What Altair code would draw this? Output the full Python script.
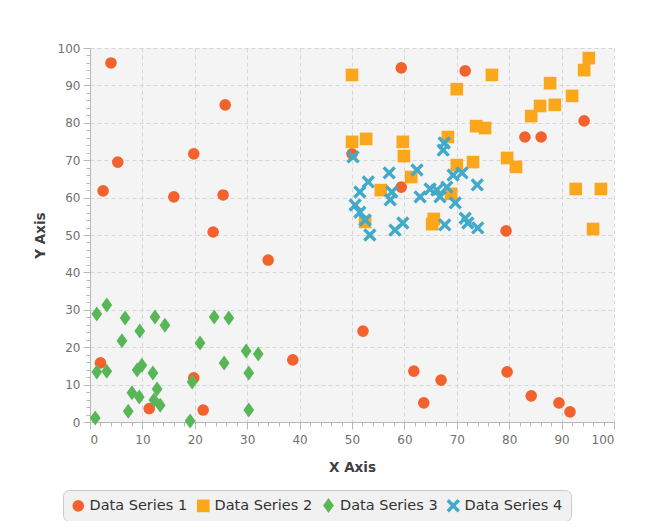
import altair as alt
import pandas as pd

series_names = ["Data Series 1", "Data Series 2", "Data Series 3", "Data Series 4"]
series_colors = ["#f3622d", "#fba71b", "#57b757", "#41a9c9"]

s1_x = [4.0, 5.3, 2.5, 16.0, 19.8, 25.8, 25.4, 23.5, 34.0, 2.0, 11.3, 19.8, 21.6, 38.7,
        52.1, 50.0, 59.4, 59.4, 71.6, 61.8, 63.7, 67.0, 79.4, 83.0, 86.1, 94.3, 79.6,
        84.2, 89.5, 91.6]
s1_y = [96.0, 69.5, 61.8, 60.2, 71.7, 84.8, 60.7, 50.8, 43.3, 15.8, 3.6, 11.8, 3.2, 16.6,
        24.3, 71.7, 94.7, 62.8, 93.9, 13.6, 5.1, 11.2, 51.1, 76.2, 76.2, 80.5, 13.4,
        7.0, 5.1, 2.7]

s2_x = [50.0, 50.0, 52.7, 59.7, 59.9, 55.5, 61.3, 52.5, 65.6, 65.3, 68.3, 70.0, 70.0,
        73.1, 73.7, 75.4, 76.7, 79.6, 81.3, 84.2, 85.9, 87.8, 88.7, 92.0, 94.3, 95.2,
        92.7, 97.5, 96.0, 68.9]
s2_y = [92.8, 74.9, 75.7, 74.9, 71.1, 62.0, 65.5, 53.5, 54.3, 52.9, 76.2, 89.0, 68.7,
        69.5, 79.1, 78.6, 92.8, 70.6, 68.2, 81.8, 84.5, 90.6, 84.8, 87.2, 94.1, 97.3,
        62.3, 62.3, 51.6, 61.0]

s3_x = [1.3, 3.2, 6.7, 9.5, 6.1, 12.4, 14.3, 1.3, 3.2, 9.0, 9.9, 12.0, 8.0, 9.4, 12.8,
        12.2, 13.4, 7.3, 1.0, 19.1, 19.5, 21.0, 23.7, 26.5, 25.6, 29.8, 32.1, 30.3, 30.3]
s3_y = [28.9, 31.3, 27.8, 24.3, 21.7, 28.1, 25.9, 13.4, 13.6, 13.9, 15.2, 13.1, 7.8, 6.7,
        8.8, 5.9, 4.5, 2.9, 1.1, 0.3, 10.7, 21.1, 28.1, 27.8, 15.8, 19.0, 18.2, 13.1, 3.2]

s4_x = [50.2, 67.6, 67.4, 57.1, 62.4, 53.1, 51.5, 50.6, 51.5, 52.5, 53.4, 57.6, 57.3,
        58.2, 59.7, 63.0, 64.9, 66.2, 66.8, 68.1, 69.3, 71.0, 69.7, 73.9, 67.7, 71.6,
        72.1, 74.0]
s4_y = [70.9, 74.6, 72.7, 66.6, 67.4, 64.2, 61.5, 58.0, 56.1, 54.0, 50.0, 61.5, 59.4,
        51.3, 53.2, 60.2, 62.3, 62.0, 60.2, 62.8, 66.0, 66.6, 58.6, 63.4, 52.7, 54.5,
        53.2, 51.9]

major_ticks = list(range(0, 101, 10))
minor_ticks = list(range(0, 101, 2))

rows = []
for name, xs, ys in zip(series_names, [s1_x, s2_x, s3_x, s4_x], [s1_y, s2_y, s3_y, s4_y]):
    for a, b in zip(xs, ys):
        rows.append({"x": a, "y": b, "series": name})
df = pd.DataFrame(rows)

diamond = "M0,-1L0.72,0L0,1L-0.72,0Z"
xmark = ("M-1,-0.64L-0.64,-1L0,-0.36L0.64,-1L1,-0.64L0.36,0L1,0.64L0.64,1L0,0.36"
         "L-0.64,1L-1,0.64L-0.36,0Z")

FONT = "DejaVu Sans"
xscale = alt.Scale(domain=[0, 100], nice=False, zero=False)
yscale = alt.Scale(domain=[0, 100], nice=False, zero=False)

axis_common = dict(
    values=major_ticks, grid=True, gridDash=[4, 3], gridColor="#d6d6d6",
    domainColor="#b8b8b8", tickColor="#b8b8b8", tickSize=7,
    labelFont=FONT, labelFontSize=12, labelColor="#707070",
    titleFont=FONT, titleFontSize=13.5, titleFontWeight="bold", titleColor="#404040",
)

main = alt.Chart(df).mark_point(filled=True, opacity=1).encode(
    x=alt.X("x:Q", scale=xscale,
            axis=alt.Axis(title="X Axis", orient="bottom", titlePadding=15, labelPadding=5,
                          **axis_common)),
    y=alt.Y("y:Q", scale=yscale,
            axis=alt.Axis(title="Y Axis", orient="left", titlePadding=10, labelPadding=3,
                          **axis_common)),
    color=alt.Color("series:N", scale=alt.Scale(domain=series_names, range=series_colors),
                    legend=alt.Legend(title=None)),
    shape=alt.Shape("series:N", scale=alt.Scale(domain=series_names,
                                                range=["circle", "square", diamond, xmark]),
                    legend=alt.Legend(title=None)),
    size=alt.Size("series:N", scale=alt.Scale(type="ordinal", domain=series_names,
                                              range=[135, 160, 225, 180]),
                  legend=None),
)

minor_axis = dict(values=minor_ticks, grid=False, labels=False, domain=False,
                  tickColor="#b8b8b8", tickSize=4, title=None)
minor = alt.Chart(df).mark_point(opacity=0).encode(
    x=alt.X("x:Q", scale=xscale, axis=alt.Axis(orient="bottom", **minor_axis)),
    y=alt.Y("y:Q", scale=yscale, axis=alt.Axis(orient="left", **minor_axis)),
)

chart = alt.layer(minor, main).resolve_axis(
    x="independent", y="independent"
).properties(
    width=524, height=374,
    autosize=alt.AutoSizeParams(type="none"),
    padding={"left": 82, "top": 40, "right": 25, "bottom": 99},
    background="white",
).configure_view(
    fill="#f4f4f4", stroke=None
).configure_legend(
    orient="none", legendX=-27, legendY=442, direction="horizontal",
    fillColor="#f1f1f1", strokeColor="#c9c9c9", cornerRadius=6, padding=8,
    labelFont=FONT, labelFontSize=14.5, labelColor="#333333", symbolSize=160,
    symbolOpacity=1, symbolStrokeWidth=0, columnPadding=8, labelOffset=4,
)

chart.save("out.html", embed_options={"renderer": "svg", "actions": False})
